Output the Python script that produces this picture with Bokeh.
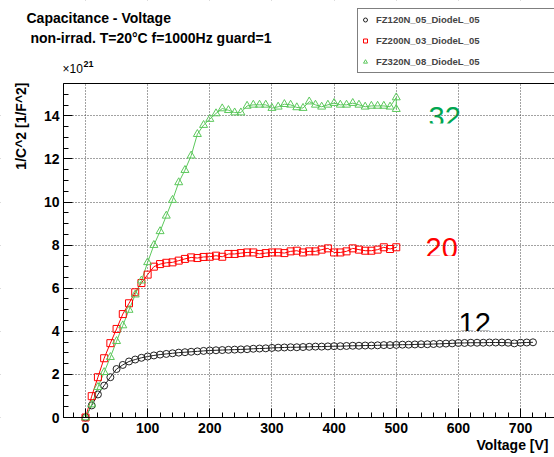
import math
from bokeh.plotting import figure
from bokeh.models import (Legend, LegendItem, Label, BoxAnnotation, LinearAxis,
                          SingleIntervalTicker, FixedTicker, Range1d)
from bokeh.embed import file_html
from bokeh.resources import INLINE

# ---------------- data (1/C^2 in units of 1e21 F^-2) ----------------
volt_120 = [0, 10, 20, 30, 40, 50, 60, 70, 80, 90, 100, 110, 120, 130, 140, 150, 160, 170, 180, 190,
            200, 210, 220, 230, 240, 250, 260, 270, 280, 290, 300, 310, 320, 330, 340, 350, 360, 370,
            380, 390, 400, 410, 420, 430, 440, 450, 460, 470, 480, 490, 500, 510, 520, 530, 540, 550,
            560, 570, 580, 590, 600, 610, 620, 630, 640, 650, 660, 670, 680, 690, 700, 710, 720]
cap_120 = [0.00, 0.56, 1.07, 1.48, 1.87, 2.25, 2.44, 2.60, 2.69, 2.77, 2.83, 2.88, 2.92, 2.95, 2.98,
           3.01, 3.03, 3.05, 3.07, 3.09, 3.11, 3.12, 3.13, 3.14, 3.15, 3.16, 3.17, 3.19, 3.20, 3.21,
           3.23, 3.24, 3.25, 3.26, 3.26, 3.27, 3.28, 3.29, 3.29, 3.30, 3.31, 3.31, 3.32, 3.33, 3.33,
           3.34, 3.34, 3.35, 3.36, 3.36, 3.37, 3.38, 3.38, 3.39, 3.40, 3.40, 3.41, 3.42, 3.43, 3.44,
           3.46, 3.46, 3.47, 3.47, 3.47, 3.48, 3.48, 3.48, 3.47, 3.44, 3.47, 3.48, 3.49]

volt_200 = [0, 10, 20, 30, 40, 50, 60, 70, 80, 90, 100, 110, 120, 130, 140, 150, 160, 170, 180, 190,
            200, 210, 220, 230, 240, 250, 260, 270, 280, 290, 300, 310, 320, 330, 340, 350, 360, 370,
            380, 390, 400, 410, 420, 430, 440, 450, 460, 470, 480, 490, 500]
cap_200 = [0.00, 0.99, 1.87, 2.75, 3.45, 4.11, 4.80, 5.30, 5.81, 6.24, 6.63, 7.00, 7.12, 7.18, 7.20,
           7.28, 7.36, 7.43, 7.40, 7.45, 7.46, 7.51, 7.46, 7.59, 7.59, 7.63, 7.66, 7.66, 7.59, 7.63,
           7.66, 7.66, 7.63, 7.71, 7.74, 7.66, 7.71, 7.71, 7.79, 7.85, 7.66, 7.66, 7.71, 7.85, 7.79,
           7.74, 7.74, 7.79, 7.90, 7.82, 7.90]

volt_320 = [0, 10, 20, 30, 40, 50, 60, 70, 80, 90, 100, 110, 120, 130, 140, 150, 160, 170, 180, 190,
            200, 210, 220, 230, 240, 250, 260, 270, 280, 290, 300, 310, 320, 330, 340, 350, 360, 370,
            380, 390, 400, 410, 420, 430, 440, 450, 460, 470, 480, 490, 500, 500]
cap_320 = [0.00, 0.60, 1.41, 2.10, 2.80, 3.54, 4.27, 4.99, 5.70, 6.35, 7.20, 8.00, 8.64, 9.36, 10.09,
           10.91, 11.48, 12.15, 13.15, 13.57, 13.85, 14.11, 14.34, 14.26, 14.15, 14.15, 14.46, 14.51,
           14.51, 14.51, 14.36, 14.42, 14.54, 14.51, 14.39, 14.36, 14.66, 14.51, 14.42, 14.51, 14.59,
           14.51, 14.51, 14.59, 14.51, 14.42, 14.46, 14.46, 14.46, 14.42, 14.85, 14.31]

series_names = ["FZ120N_05_DiodeL_05", "FZ200N_03_DiodeL_05", "FZ320N_08_DiodeL_05"]
thickness_labels = ["12", "20", "32"]
y_grid_ticks = [0, 2, 4, 6, 8, 10, 12, 14]

FONT = "Liberation Sans"
W, H = 554, 457

# ---------------- geometry: frame covers the whole canvas; axes sit at fixed locations ----------------
PX_PER_V = 0.6215      # pixels per volt
PX_PER_U = 21.548      # pixels per 1e21 unit
ORIG_X, ORIG_Y = 85, 417   # canvas pixel of (0 V, 0)


def dx(px):
    return (px - ORIG_X) / PX_PER_V


def dy(py):
    return (ORIG_Y - py) / PX_PER_U


X_LEFT, X_RIGHT = dx(63), dx(W)
Y_TOP = dy(83)

p = figure(width=W, height=H, x_range=Range1d(dx(0), dx(W)), y_range=Range1d(dy(H), dy(0)),
           output_backend="svg", toolbar_location=None,
           min_border_left=0, min_border_right=0, min_border_top=0, min_border_bottom=0)
p.outline_line_color = None
p.background_fill_color = "white"
p.border_fill_color = "white"

xt = SingleIntervalTicker(interval=100, num_minor_ticks=5)
yt = SingleIntervalTicker(interval=2, num_minor_ticks=4)
p.xaxis.fixed_location = 0
p.xaxis.bounds = (X_LEFT, X_RIGHT)
p.yaxis.fixed_location = X_LEFT
p.yaxis.bounds = (0, Y_TOP)
for ax, t in ((p.xaxis, xt), (p.yaxis, yt)):
    ax.ticker = t
    ax.major_tick_in = 9
    ax.major_tick_out = 0
    ax.minor_tick_in = 5
    ax.minor_tick_out = 0
    ax.axis_line_color = "black"
    ax.major_tick_line_color = "black"
    ax.minor_tick_line_color = "black"
    ax.major_label_text_font = FONT
    ax.major_label_text_font_style = "bold"
    ax.major_label_text_font_size = "14px"
    ax.major_label_text_color = "black"
p.xaxis.major_label_standoff = 5
p.yaxis.major_label_standoff = 4

top_axis = LinearAxis(ticker=FixedTicker(ticks=[]), axis_line_color="black",
                      major_tick_line_color=None, minor_tick_line_color=None,
                      fixed_location=Y_TOP, bounds=(X_LEFT, X_RIGHT))
p.add_layout(top_axis, "above")

p.xgrid.ticker = xt
p.ygrid.ticker = FixedTicker(ticks=y_grid_ticks)
for g in (p.xgrid, p.ygrid):
    g.grid_line_color = "#444444"
    g.grid_line_dash = "1 2"
    g.grid_line_width = 1

# ---------------- series ----------------
c_black, c_red, c_green = "#222222", "#ff0000", "#5cc85c"
p.line(volt_120, cap_120, line_color=c_black, line_width=1)
p.line(volt_200, cap_200, line_color=c_red, line_width=1)
p.line(volt_320, cap_320, line_color=c_green, line_width=1)
s1 = p.scatter(volt_120, cap_120, marker="circle", size=7, fill_color=None, line_color=c_black, line_width=1)
s2 = p.scatter(volt_200, cap_200, marker="square", size=7, fill_color=None, line_color=c_red, line_width=1)
s3 = p.scatter(volt_320, cap_320, marker="triangle", size=8, fill_color=None, line_color=c_green, line_width=1)

legend = Legend(items=[LegendItem(label=series_names[0], renderers=[s1]),
                       LegendItem(label=series_names[1], renderers=[s2]),
                       LegendItem(label=series_names[2], renderers=[s3])],
                location=(357, H - 73), orientation="vertical",
                border_line_color="black", border_line_width=1,
                background_fill_color="white", background_fill_alpha=1.0,
                label_text_font=FONT, label_text_font_style="bold", label_text_font_size="9.5px",
                glyph_width=10, glyph_height=17, label_height=17, label_standoff=6,
                padding=2, spacing=4, margin=0, label_width=190)


# ---------------- texts ----------------
def lab(px, base_py, text, size_px, bold=True, color="black", align="left", baseline="alphabetic",
        angle=0.0, level="annotation"):
    # base_py: wanted baseline in canvas pixels; compensate the renderer's baseline offset
    shift = 0.38 * size_px if baseline == "alphabetic" else 0.0
    return Label(x=dx(px), y=dy(base_py - shift), text=text, text_font=FONT,
                 text_font_size=f"{size_px}px",
                 text_font_style="bold" if bold else "normal", text_color=color,
                 text_align=align, text_baseline=baseline, angle=angle, level=level)


def mask(left=None, right=None, bottom=None, top=None):
    return BoxAnnotation(left=left, right=right, bottom=bottom, top=top, fill_color="white",
                         fill_alpha=1.0, line_color=None, level="underlay")


# thickness labels, partly hidden at their bottom (as in the original canvas)
big = [lab(458, 334, thickness_labels[0], 29, bold=False, color="black", level="underlay"),
       lab(425, 259, thickness_labels[1], 29, bold=False, color="#ff0000", level="underlay"),
       lab(428, 127.5, thickness_labels[2], 29, bold=False, color="#00a650", level="underlay")]
big_masks = [mask(dx(455), dx(495), dy(337), dy(330.6)),
             mask(dx(422), dx(462), dy(263), dy(255.5)),
             mask(dx(425), dx(465), dy(132), dy(123))]
# white outside the plotting box (hides grid lines there)
outer_masks = [mask(right=X_LEFT), mask(bottom=Y_TOP), mask(top=0)]

texts = [lab(26, 23.3, "Capacitance - Voltage", 14),
         lab(30, 42.5, "non-irrad. T=20°C f=1000Hz guard=1", 14),
         lab(20, 82, "1/C^2 [1/F^2]", 14, align="right", baseline="middle", angle=math.pi / 2),
         lab(548, 450, "Voltage [V]", 14, align="right"),
         lab(62, 72.7, "×10", 12, bold=False),
         lab(83, 66.7, "21", 9)]

grids = list(p.center)
p.center = big + big_masks + grids + outer_masks + texts + [legend]

open("out.html", "w").write(file_html(p, INLINE))
